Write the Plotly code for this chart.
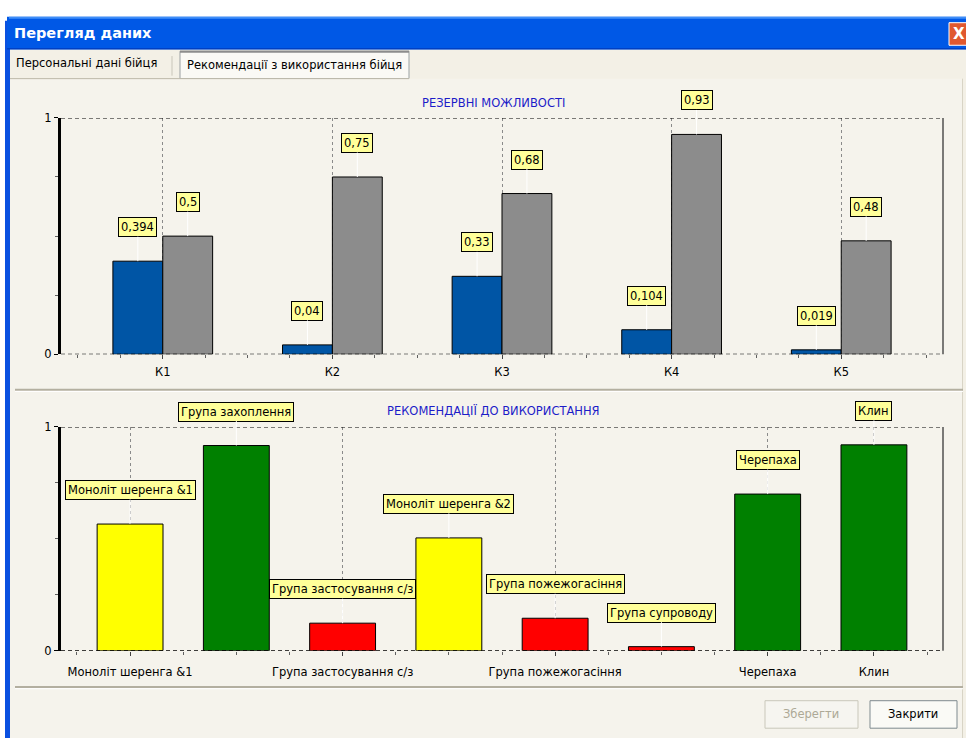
import plotly.graph_objects as go

# ---------------- data ----------------
reserve_categories = ["К1", "К2", "К3", "К4", "К5"]
reserve_current = [0.394, 0.04, 0.33, 0.104, 0.019]
reserve_possible = [0.5, 0.75, 0.68, 0.93, 0.48]
reserve_current_labels = ["0,394", "0,04", "0,33", "0,104", "0,019"]
reserve_possible_labels = ["0,5", "0,75", "0,68", "0,93", "0,48"]

rec_names = ["Моноліт шеренга &1", "Група захоплення", "Група застосування с/з",
             "Моноліт шеренга &2", "Група пожежогасіння", "Група супроводу",
             "Черепаха", "Клин"]
rec_values = [0.566, 0.917, 0.123, 0.504, 0.145, 0.018, 0.70, 0.92]
rec_colors = ["#FFFF00", "#008000", "#FF0000", "#FFFF00", "#FF0000", "#FF0000",
              "#008000", "#008000"]
rec_tick_idx = [0, 2, 4, 6, 7]

y_ticks = [0, 1]
y_ticktext = ["0", "1"]

# ---------------- geometry helpers ----------------
W, H = 966, 745
def px(x):
    return x / W
def py(y):
    return 1 - y / H

FONT = "DejaVu Sans, Verdana, sans-serif"
FS = 11.5
BEIGE = "#F3F0E6"

fig = go.Figure()

bw_top = 0.294
fig.add_trace(go.Bar(
    x=list(range(len(reserve_categories))), y=reserve_current,
    width=bw_top, offset=-bw_top,
    marker=dict(color="#0055A5", line=dict(color="#000000", width=1)),
    xaxis="x", yaxis="y", hoverinfo="skip", showlegend=False))
fig.add_trace(go.Bar(
    x=list(range(len(reserve_categories))), y=reserve_possible,
    width=bw_top, offset=0,
    marker=dict(color="#8C8C8C", line=dict(color="#000000", width=1)),
    xaxis="x", yaxis="y", hoverinfo="skip", showlegend=False))

bw_bot = 0.62
fig.add_trace(go.Bar(
    x=list(range(len(rec_names))), y=rec_values, width=bw_bot,
    marker=dict(color=rec_colors, line=dict(color="#000000", width=1)),
    xaxis="x2", yaxis="y2", hoverinfo="skip", showlegend=False))

axis_common = dict(showline=False, zeroline=False,
                   tickfont=dict(family=FONT, size=FS, color="#000000"))

fig.update_layout(
    width=W, height=H, autosize=False,
    margin=dict(l=0, r=0, t=0, b=0),
    paper_bgcolor="#FFFFFF", plot_bgcolor="rgba(0,0,0,0)",
    barmode="overlay",
    xaxis=dict(domain=[px(61), px(943)], range=[-0.6, 4.6], anchor="y",
               tickvals=list(range(len(reserve_categories))),
               ticktext=reserve_categories,
               ticks="outside", ticklen=4, tickcolor="#404040",
               ticklabelstandoff=3,
               minor=dict(dtick=0.25, tick0=0, ticks="outside", ticklen=3,
                          tickcolor="#606060", showgrid=False),
               showgrid=True, gridcolor="#8A8A8A", griddash="3px,3px", gridwidth=1,
               **axis_common),
    yaxis=dict(domain=[py(354), py(113)], range=[0, 1], anchor="x",
               tickvals=y_ticks, ticktext=y_ticktext,
               ticks="outside", ticklen=4, tickcolor="#000000",
               minor=dict(dtick=0.25, tick0=0, ticks="outside", ticklen=3,
                          tickcolor="#606060", showgrid=False),
               showgrid=False,
               showline=True, linecolor="#000000", linewidth=3, zeroline=False,
               tickfont=dict(family=FONT, size=FS, color="#000000")),
    xaxis2=dict(domain=[px(61), px(943)], range=[-0.65, 7.65], anchor="y2",
                tickvals=rec_tick_idx,
                ticktext=[rec_names[i] for i in rec_tick_idx],
                ticks="outside", ticklen=4, tickcolor="#404040",
                ticklabelstandoff=7,
                minor=dict(dtick=0.5, tick0=0, ticks="outside", ticklen=3,
                           tickcolor="#606060", showgrid=False),
                showgrid=True, gridcolor="#8A8A8A", griddash="3px,3px", gridwidth=1,
                **axis_common),
    yaxis2=dict(domain=[py(656), py(428)], range=[0, 1], anchor="x2",
                tickvals=y_ticks, ticktext=y_ticktext,
                ticks="outside", ticklen=4, tickcolor="#000000",
                minor=dict(dtick=0.25, tick0=0, ticks="outside", ticklen=3,
                           tickcolor="#606060", showgrid=False),
                showgrid=False,
                showline=True, linecolor="#000000", linewidth=3, zeroline=False,
                tickfont=dict(family=FONT, size=FS, color="#000000")),
)

shapes = []
def rect(x0, y0, x1, y1, fill, line=None, lw=0, layer="below"):
    shapes.append(dict(type="rect", xref="paper", yref="paper",
                       x0=px(x0), x1=px(x1), y0=py(y1), y1=py(y0),
                       fillcolor=fill, layer=layer,
                       line=dict(color=line or fill, width=lw)))
def hline(x0, x1, y, color, w=1, layer="below"):
    shapes.append(dict(type="line", xref="paper", yref="paper",
                       x0=px(x0), x1=px(x1), y0=py(y), y1=py(y),
                       line=dict(color=color, width=w), layer=layer))
def vline(x, y0, y1, color, w=1, layer="below"):
    shapes.append(dict(type="line", xref="paper", yref="paper",
                       x0=px(x), x1=px(x), y0=py(y0), y1=py(y1),
                       line=dict(color=color, width=w), layer=layer))

# window body
rect(10, 43, 966, 745, BEIGE)
# left frame (blue)
rect(5, 14, 10, 745, "#0A50E0")
# title bar
rect(7, 10, 966, 43, "#0058E6")
hline(9, 966, 11, "#3F8EF8", 2)
hline(7, 966, 42.5, "#0040C4", 1.5)
# close button
rect(949, 16, 970, 39, "#E0582F", line="#FFFFFF", lw=1)
# tab strip
rect(180, 45, 409, 73, "#FAF9F5", line="#9AA0A2", lw=1)
hline(180, 409, 45.5, "#8C8C8C", 2)
vline(172, 50, 70, "#C9C6BA", 1)
# tab page area
rect(10, 73, 963, 745, "#F5F3EC")
hline(10, 409, 73, "#BDB9AA", 1)
vline(962.5, 73, 745, "#D8D4C6", 1)
# panel separators
hline(15, 963, 390, "#B3AFA0", 2)
hline(15, 963, 391.8, "#FFFFFF", 1)
hline(15, 963, 693, "#B3AFA0", 2)
hline(15, 963, 694.8, "#FFFFFF", 1)
# buttons
rect(765, 707, 858, 735, "#F6F5F0", line="#C9C7BA", lw=1)
rect(870, 707, 957, 735, "#FAFAF6", line="#7F8A8F", lw=1)
# plot frames: dashed horizontal lines at the y ticks, solid right border
for xr, yr in (("x", "y"), ("x2", "y2")):
    for v in y_ticks:
        shapes.append(dict(type="line", xref=xr + " domain", yref=yr,
                           x0=0, x1=1, y0=v, y1=v,
                           line=dict(color="#000000", width=1.3, dash="4px,3px"),
                           layer="above"))
    shapes.append(dict(type="line", xref=xr + " domain", yref=yr + " domain",
                       x0=1, x1=1, y0=0, y1=1,
                       line=dict(color="#505050", width=1.5), layer="above"))

fig.update_layout(shapes=shapes)

ann = []
def text(x, y, s, size=FS, color="#000000", bold=False, xanchor="center", family=FONT):
    ann.append(dict(x=px(x), y=py(y), xref="paper", yref="paper", text=("<b>%s</b>" % s) if bold else s,
                    showarrow=False, xanchor=xanchor, yanchor="middle",
                    font=dict(family=family, size=size, color=color)))

text(12, 27, "Перегляд даних", size=14.5, color="#FFFFFF", bold=True, xanchor="left")
text(959, 27.5, "X", size=15, color="#FFFFFF", bold=True)
text(86, 57, "Персональні дані бійця", size=FS)
text(294, 59, "Рекомендації з використання бійця", size=FS)
text(493, 98, "РЕЗЕРВНІ МОЖЛИВОСТІ", size=11.5, color="#1C1CC8")
text(493, 411, "РЕКОМЕНДАЦІЇ ДО ВИКОРИСТАННЯ", size=11.5, color="#1C1CC8")
text(811, 721, "Зберегти", size=FS, color="#ADA996")
text(913, 721, "Закрити", size=FS)

def label(xv, yv, s, xr, yr):
    ann.append(dict(x=xv, y=yv, xref=xr, yref=yr, text=s,
                    showarrow=True, arrowhead=0, arrowwidth=1, arrowcolor="#FFFFFF",
                    ax=0, ay=-34, standoff=0, startstandoff=0,
                    bgcolor="#FFFF99", bordercolor="#000000", borderwidth=1, borderpad=2,
                    font=dict(family=FONT, size=FS, color="#000000")))

for i in range(len(reserve_categories)):
    label(i - bw_top / 2, reserve_current[i], reserve_current_labels[i], "x", "y")
    label(i + bw_top / 2, reserve_possible[i], reserve_possible_labels[i], "x", "y")
for i in range(len(rec_names)):
    label(i, rec_values[i], rec_names[i], "x2", "y2")

fig.update_layout(annotations=ann)

fig.write_html("out.html", post_script="document.body.style.margin='0';",
               config={"displayModeBar": False})
